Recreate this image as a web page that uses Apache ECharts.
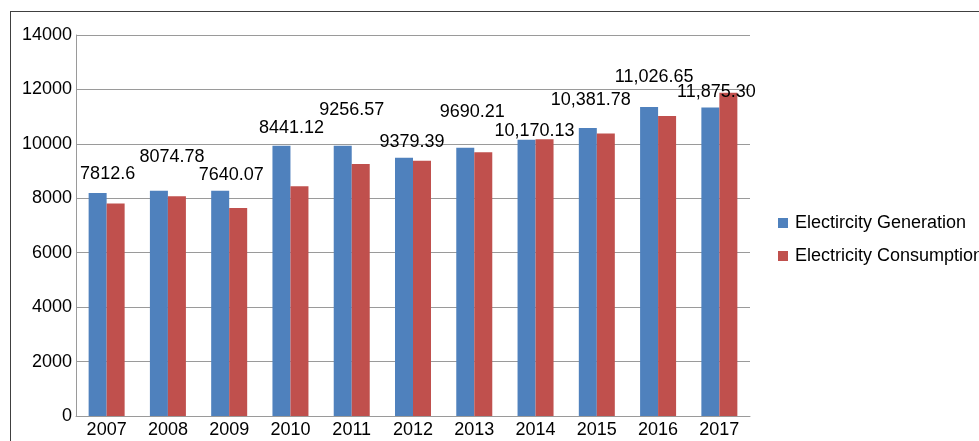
<!DOCTYPE html>
<html>
<head>
    <meta charset="utf-8">
    <title>Electricity</title>
    <script src="https://cdn.jsdelivr.net/npm/echarts@6/dist/echarts.min.js"></script>
    <style>
        html, body {
            margin: 0;
            padding: 0;
            background: #ffffff;
            overflow: hidden;
        }

        .frame {
            position: absolute;
            left: 10px;
            top: 11px;
            width: 2000px;
            height: 2000px;
            border: 1px solid #404040;
        }

        #chart {
            position: absolute;
            left: 0;
            top: 0;
            width: 979px;
            height: 441px;
        }
    </style>
</head>
<body>
<div class="frame"></div>
<div id="chart"></div>
<script>
    // data
    var years = ['2007', '2008', '2009', '2010', '2011', '2012', '2013', '2014', '2015', '2016', '2017'];
    var generation = [8190, 8275, 8275, 9927, 9927, 9486, 9853, 10147, 10587, 11358, 11333];
    var consumption = [7812.6, 8074.78, 7640.07, 8441.12, 9256.57, 9379.39, 9690.21, 10170.13, 10381.78, 11026.65, 11875.30];
    var consumptionLabels = ['7812.6', '8074.78', '7640.07', '8441.12', '9256.57', '9379.39', '9690.21',
        '10,170.13', '10,381.78', '11,026.65', '11,875.30'];
    var yTicks = [0, 2000, 4000, 6000, 8000, 10000, 12000, 14000];

    // where Excel left each data label (offset from the top of the red bar)
    var labelShift = [[-8, -19], [-5, -29], [-7, -23], [-8, -48], [-9, -44], [-10, -9],
        [-11, -30], [-10, 2], [-15, -23], [-13, -29], [-12, 9]];

    var font = '"Liberation Sans", Arial, sans-serif';

    var chart = echarts.init(document.getElementById('chart'), null, {renderer: 'canvas'});

    var consumptionData = consumption.map(function (v, i) {
        return {
            value: v,
            label: {offset: labelShift[i]}
        };
    });

    var option = {
        backgroundColor: 'transparent',
        animation: false,
        grid: {
            left: 76,
            right: 229,
            top: 35,
            bottom: 25,
            containLabel: false
        },
        legend: {
            orient: 'vertical',
            left: 773,
            top: 209,
            icon: 'rect',
            itemWidth: 10,
            itemHeight: 10,
            itemGap: 15,
            textStyle: {
                fontFamily: font,
                fontSize: 18,
                color: '#000000',
                padding: [0, 0, 0, 2]
            },
            data: ['Electircity Generation', 'Electricity Consumption']
        },
        xAxis: {
            type: 'category',
            data: years,
            axisLine: {lineStyle: {color: '#9a9a9a', width: 1}},
            axisTick: {show: false},
            axisLabel: {
                fontFamily: font,
                fontSize: 18,
                color: '#000000',
                margin: 5
            }
        },
        yAxis: {
            type: 'value',
            min: yTicks[0],
            max: yTicks[yTicks.length - 1],
            interval: yTicks[1] - yTicks[0],
            axisLine: {show: true, lineStyle: {color: '#9a9a9a', width: 1}},
            axisTick: {show: false},
            axisLabel: {
                fontFamily: font,
                fontSize: 18,
                color: '#000000',
                margin: 4,
                formatter: function (v) {
                    return String(v);
                }
            },
            splitLine: {lineStyle: {color: '#9a9a9a', width: 1}}
        },
        series: [
            {
                name: 'Electircity Generation',
                type: 'bar',
                barWidth: 18,
                barGap: '0%',
                itemStyle: {color: '#4F81BD'},
                data: generation
            },
            {
                name: 'Electricity Consumption',
                type: 'bar',
                barWidth: 18,
                itemStyle: {color: '#C0504D'},
                label: {
                    show: true,
                    position: 'top',
                    distance: 0,
                    fontFamily: font,
                    fontSize: 18,
                    lineHeight: 20,
                    color: '#000000',
                    formatter: function (p) {
                        return consumptionLabels[p.dataIndex];
                    }
                },
                z: 3,
                data: consumptionData
            }
        ]
    };

    chart.setOption(option);

    window.onresize = function () {
        chart.resize();
    };
</script>
</body>
</html>
